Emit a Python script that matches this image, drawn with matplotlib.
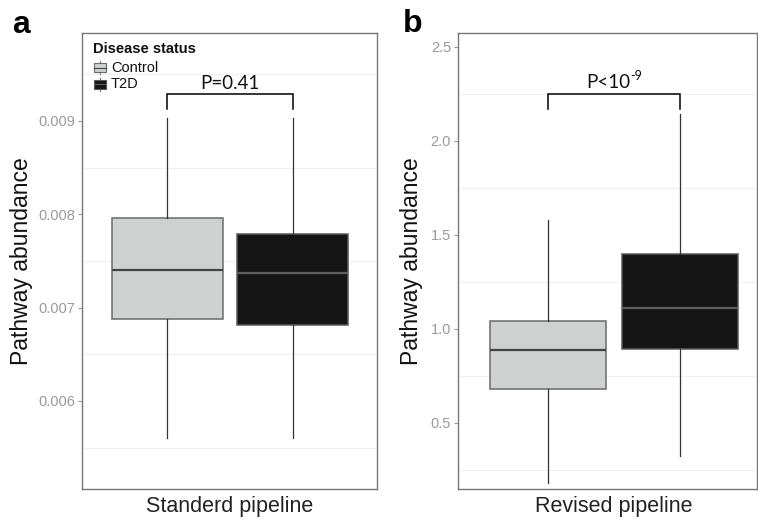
import matplotlib
matplotlib.use("Agg")
import matplotlib.pyplot as plt
from matplotlib.patches import Rectangle
from matplotlib.lines import Line2D

plt.rcParams['font.family'] = ['Liberation Sans', 'DejaVu Sans']

# ---- data ----
groups = ["Control", "T2D"]
# panel a: Standard pipeline
a_whislo = [0.005602, 0.005602]
a_q1 = [0.006878, 0.006814]
a_med = [0.007400, 0.007371]
a_q3 = [0.007960, 0.007789]
a_whishi = [0.009032, 0.009032]
a_ticks = [0.006, 0.007, 0.008, 0.009]
a_ticklabels = ["0.006", "0.007", "0.008", "0.009"]
a_minor = [0.0055, 0.0065, 0.0075, 0.0085, 0.0095]
a_pval = ("P=0.41", "")
a_xlabel = "Standerd pipeline"

# panel b: Revised pipeline
b_whislo = [0.178, 0.324]
b_q1 = [0.677, 0.894]
b_med = [0.885, 1.112]
b_q3 = [1.039, 1.397]
b_whishi = [1.578, 2.142]
b_ticks = [0.5, 1.0, 1.5, 2.0, 2.5]
b_ticklabels = ["0.5", "1.0", "1.5", "2.0", "2.5"]
b_minor = [0.25, 0.75, 1.25, 1.75, 2.25]
b_pval = ("P<10", "-9")
b_xlabel = "Revised pipeline"

ylabel = "Pathway abundance"
legend_title = "Disease status"

fills = ["#cfd1d0", "#151515"]
edges = ["#6a6a6a", "#5a5a5a"]
medcols = ["#444444", "#5f5f5f"]

fig = plt.figure(figsize=(7.58, 5.2), dpi=100)
W, H = 758, 520
axa = fig.add_axes([82 / W, (H - 489) / H, (377 - 82) / W, (489 - 33) / H])
axb = fig.add_axes([458 / W, (H - 489) / H, (757 - 458) / W, (489 - 33) / H])

positions = [0.747, 1.257]
bw = 0.45
pfont = ["Lato", "DejaVu Sans"]


def draw_panel(ax, whislo, q1, med, q3, whishi, ticks, ticklabels, minor, ylim, xlim,
               pval, bracket_top, bracket_bot, xlabel):
    for y in minor:
        ax.axhline(y, color="#f1f1f1", lw=0.9, zorder=0)
    for i in range(2):
        st = dict(med=med[i], q1=q1[i], q3=q3[i], whislo=whislo[i],
                  whishi=whishi[i], fliers=[])
        ax.bxp([st], positions=[positions[i]], widths=bw, patch_artist=True,
               showcaps=False, showfliers=False,
               boxprops=dict(facecolor=fills[i], edgecolor=edges[i], linewidth=1.1),
               medianprops=dict(color=medcols[i], linewidth=1.6),
               whiskerprops=dict(color="#333333", linewidth=0.9),
               manage_ticks=False, zorder=2)
    ax.set_xlim(*xlim)
    ax.set_ylim(*ylim)
    ax.set_yticks(ticks)
    ax.set_yticklabels(ticklabels)
    ax.tick_params(axis="y", colors="#9a9a9a", labelsize=10.5, length=3, width=0.8,
                   labelcolor="#9a9a9a", pad=2)
    ax.set_xticks([1.0])
    ax.set_xticklabels([xlabel])
    ax.tick_params(axis="x", length=0, labelsize=15.5, labelcolor="#222222", pad=5)
    for s in ax.spines.values():
        s.set_color("#777777")
        s.set_linewidth(1.0)
    ax.set_ylabel(ylabel, fontsize=16.5, color="#111111")
    # significance bracket
    x0, x1 = positions
    ax.plot([x0, x0, x1, x1], [bracket_bot, bracket_top, bracket_top, bracket_bot],
            color="black", lw=1.1, zorder=3, solid_joinstyle="miter")
    main, sup = pval
    xc = (x0 + x1) / 2
    if sup:
        ax.annotate(main, xy=(xc, bracket_top), xytext=(12.0, 2), textcoords="offset points",
                    ha="right", va="bottom", fontsize=13.5, family=pfont, color="#111111")
        ax.annotate(sup, xy=(xc, bracket_top), xytext=(12.0, 9), textcoords="offset points",
                    ha="left", va="bottom", fontsize=9, family=pfont, color="#111111")
    else:
        ax.annotate(main, xy=(xc, bracket_top), xytext=(0, 2), textcoords="offset points",
                    ha="center", va="bottom", fontsize=13.5, family=pfont, color="#111111")


draw_panel(axa, a_whislo, a_q1, a_med, a_q3, a_whishi, a_ticks, a_ticklabels, a_minor,
           (0.005056, 0.009943), (0.4, 1.6), a_pval, 0.009286, 0.009125, a_xlabel)
draw_panel(axb, b_whislo, b_q1, b_med, b_q3, b_whishi, b_ticks, b_ticklabels, b_minor,
           (0.147, 2.573), (0.4, 1.554), b_pval, 2.247, 2.167, b_xlabel)

axa.yaxis.set_label_coords(-49 / 295, 0.5)
axb.yaxis.set_label_coords(-35 / 299, 0.5)

# legend (manual, in axes a pixel-ish coordinates)
def px(x, y):
    return ((x - 82) / 295, (489 - y) / 456)

tx, ty = px(93, 49)
axa.text(tx, ty, legend_title, transform=axa.transAxes, fontsize=10.5, fontweight="bold",
         ha="left", va="center", color="#111111")
for i, (g, yc) in enumerate(zip(groups, [67.5, 84])):
    kx0, ky = px(94, yc)
    kx1, _ = px(106, yc)
    _, kyt = px(94, yc - 4.5)
    _, kyb = px(94, yc + 4.5)
    _, kyt2 = px(94, yc - 6.5)
    _, kyb2 = px(94, yc + 6.5)
    kxm = (kx0 + kx1) / 2
    axa.add_line(Line2D([kxm, kxm], [kyb2, kyt2], transform=axa.transAxes,
                        color="#777777", lw=0.8, zorder=4))
    axa.add_patch(Rectangle((kx0, kyb), kx1 - kx0, kyt - kyb, transform=axa.transAxes,
                            facecolor=fills[i], edgecolor=edges[i], lw=0.8, zorder=5))
    axa.add_line(Line2D([kx0, kx1], [ky, ky], transform=axa.transAxes,
                        color=medcols[i], lw=0.8, zorder=6))
    lx, ly = px(111, yc)
    axa.text(lx, ly, g, transform=axa.transAxes, fontsize=10.5, ha="left", va="center",
             color="#111111")

fig.text(12 / W, (H - 33) / H, "a", fontsize=23, fontweight="bold", ha="left", va="baseline")
fig.text(403 / W, (H - 32) / H, "b", fontsize=23, fontweight="bold", ha="left", va="baseline")

fig.savefig("out.png", dpi=100)
